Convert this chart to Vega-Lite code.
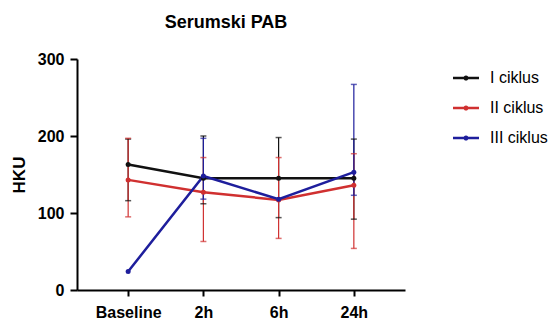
{
  "$schema": "https://vega.github.io/schema/vega-lite/v6.json",
  "autosize": "none",
  "width": 328,
  "height": 231,
  "padding": {"left": 77, "top": 59, "right": 153, "bottom": 34},
  "background": "white",
  "title": {"text": "Serumski PAB", "font": "Liberation Sans", "fontSize": 18, "fontWeight": "bold", "color": "#000", "anchor": "middle", "dx": -15, "offset": 19},
  "config": {
    "view": {"stroke": null},
    "axis": {"labelFont": "Liberation Sans", "titleFont": "Liberation Sans", "labelColor": "#000", "titleColor": "#000", "domainColor": "#000", "tickColor": "#000", "domainWidth": 2, "tickWidth": 2, "grid": false}
  },
  "data": {"values": [
    {"t": "Baseline", "g": "I ciklus", "m": 163, "lo": 116, "hi": 196},
    {"t": "2h", "g": "I ciklus", "m": 145, "lo": 112, "hi": 200},
    {"t": "6h", "g": "I ciklus", "m": 145, "lo": 94, "hi": 198},
    {"t": "24h", "g": "I ciklus", "m": 145, "lo": 92, "hi": 196},
    {"t": "Baseline", "g": "II ciklus", "m": 143, "lo": 95, "hi": 197},
    {"t": "2h", "g": "II ciklus", "m": 127, "lo": 63, "hi": 172},
    {"t": "6h", "g": "II ciklus", "m": 117, "lo": 67, "hi": 172},
    {"t": "24h", "g": "II ciklus", "m": 136, "lo": 54, "hi": 177},
    {"t": "Baseline", "g": "III ciklus", "m": 24, "lo": null, "hi": null},
    {"t": "2h", "g": "III ciklus", "m": 148, "lo": 118, "hi": 197},
    {"t": "6h", "g": "III ciklus", "m": 118, "lo": null, "hi": null},
    {"t": "24h", "g": "III ciklus", "m": 153, "lo": 123, "hi": 267}
  ]},
  "encoding": {
    "x": {"field": "t", "type": "nominal", "sort": ["Baseline", "2h", "6h", "24h"], "scale": {"type": "point", "padding": 0.68},
      "axis": {"title": null, "labelAngle": 0, "labelFontSize": 16, "labelFontWeight": "bold", "tickSize": 6, "labelPadding": 8}},
    "color": {"field": "g", "type": "nominal", "scale": {"domain": ["I ciklus", "II ciklus", "III ciklus"], "range": ["#111111", "#d03030", "#1e1e9c"]},
      "legend": {"title": null, "orient": "none", "legendX": 376, "legendY": 6, "padding": 0, "labelFont": "Liberation Sans", "labelFontSize": 16, "labelColor": "#000", "labelOffset": 11, "rowPadding": 9,
        "symbolType": "M-1,-0.09H1V0.09H-1Z M0,-0.2A0.2,0.2,0,1,1,0,0.2A0.2,0.2,0,1,1,0,-0.2Z", "symbolSize": 676,
        "encode": {"symbols": {"update": {"fill": {"scale": "color", "field": "value"}, "stroke": {"value": "transparent"}, "strokeWidth": {"value": 0}, "opacity": {"value": 1}}}}}}
  },
  "layer": [
    {"mark": {"type": "rule", "strokeWidth": 1.2}, "encoding": {"y": {"field": "lo", "type": "quantitative"}, "y2": {"field": "hi"}}},
    {"mark": {"type": "tick", "thickness": 1.5, "size": 6, "orient": "horizontal"}, "encoding": {"y": {"field": "lo", "type": "quantitative"}}},
    {"mark": {"type": "tick", "thickness": 1.5, "size": 6, "orient": "horizontal"}, "encoding": {"y": {"field": "hi", "type": "quantitative"}}},
    {"mark": {"type": "line", "strokeWidth": 2.5}, "encoding": {
      "y": {"field": "m", "type": "quantitative", "scale": {"domain": [0, 300], "nice": false}, "axis": {"title": "HKU", "values": [0, 100, 200, 300], "labelFontSize": 16, "labelFontWeight": "bold", "titleFontSize": 17, "titleFontWeight": "bold", "tickSize": 7, "labelPadding": 6, "titlePadding": 9}}}},
    {"mark": {"type": "point", "filled": true, "size": 25, "opacity": 1}, "encoding": {"y": {"field": "m", "type": "quantitative"}}}
  ]
}
